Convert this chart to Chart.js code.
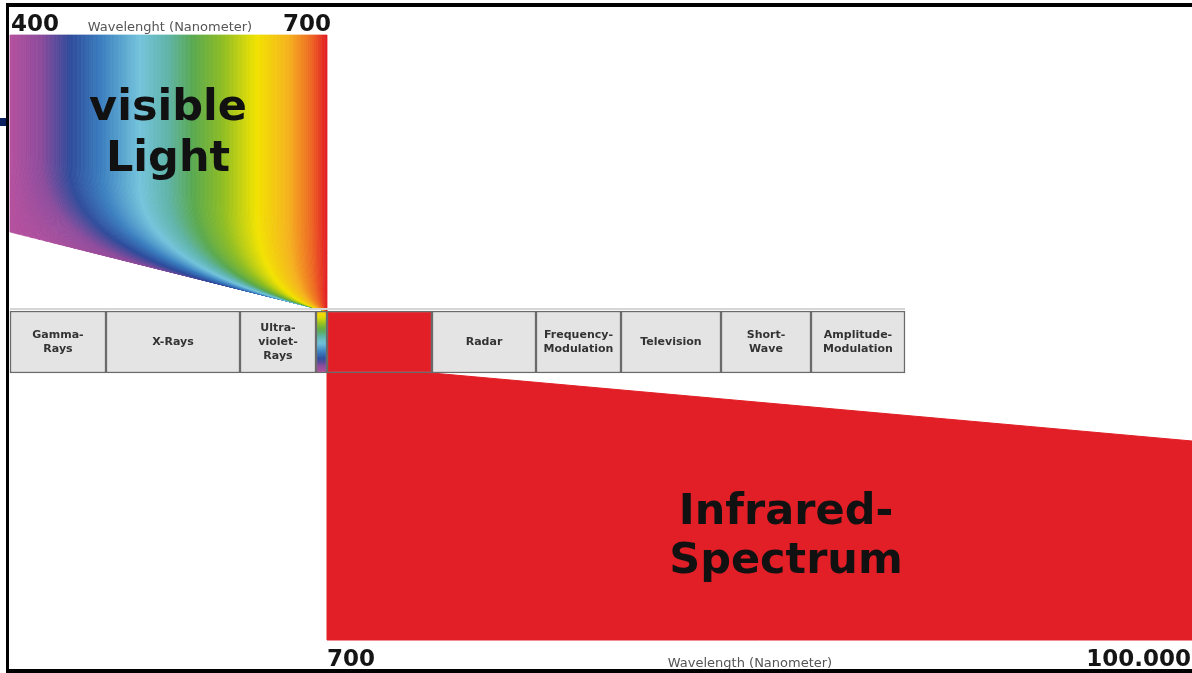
<!DOCTYPE html>
<html>
<head>
<meta charset="utf-8">
<script src="https://cdn.jsdelivr.net/npm/chart.js@4/dist/chart.umd.min.js"></script>
<style>
  html, body { margin: 0; padding: 0; background: #fff; overflow: hidden; }
  #wrap { width: 1192px; height: 673px; position: relative; }
</style>
</head>
<body>
<div id="wrap"><canvas id="spectrumChart"></canvas></div>
<script>
// bands of the electromagnetic spectrum, left to right (diagram units)
const bandLabels = ["Gamma-\nRays", "X-Rays", "Ultra-\nviolet-\nRays", "", "", "Radar",
  "Frequency-\nModulation", "Television", "Short-\nWave", "Amplitude-\nModulation"];
const bandStart = [10, 106, 240, 316, 327, 432, 536, 621, 721, 811];
const bandEnd = [106, 240, 316, 327, 432, 536, 621, 721, 811, 905];

// visible light: wavelength stops (nm) and their colours
const visibleNm = [400, 430, 457, 487, 523, 550, 574, 601, 634, 664, 685, 700];
const visibleColors = ["#b5509e", "#8c4b9c", "#2f4b9b", "#3b7fc0", "#74c4dc", "#5fb4a8",
  "#5aa94f", "#8dbd24", "#f2e300", "#f5b21e", "#ee6a22", "#e31e24"];

// outline of the visible fan: top-left, top-right, apex, foot
const visibleX = [10, 327, 327, 10];
const visibleY = [35, 35, 311, 232];

// outline of the infrared wedge
const infraredX = [327, 432, 1192, 1192, 327, 327];
const infraredY = [373, 373, 441, 640, 640, 373];

const topTicks = ["400", "700"];
const topTitle = "Wavelenght (Nanometer)";
const bottomTicks = ["700", "100.000"];
const bottomTitle = "Wavelength (Nanometer)";
const visibleTitle = ["visible", "Light"];
const infraredTitle = ["Infrared-", "Spectrum"];

const RED = "#e21f26";
const FONT = '"DejaVu Sans", Verdana, sans-serif';

function hexToRgb(h) {
  return [parseInt(h.slice(1, 3), 16), parseInt(h.slice(3, 5), 16), parseInt(h.slice(5, 7), 16)];
}

function nmColor(nm) {
  let i = 0;
  while (i < visibleNm.length - 2 && nm > visibleNm[i + 1]) i++;
  const t = Math.min(1, Math.max(0, (nm - visibleNm[i]) / (visibleNm[i + 1] - visibleNm[i])));
  const a = hexToRgb(visibleColors[i]), b = hexToRgb(visibleColors[i + 1]);
  const c = a.map((v, k) => Math.round(v + (b[k] - v) * t));
  return "rgb(" + c.join(",") + ")";
}

// the visible fan: vertical colour bands that bend and squeeze into the apex
const fanPlugin = {
  id: "visibleFan",
  beforeDatasetsDraw(chart) {
    const { ctx, scales: { x, y } } = chart;
    const L = visibleX[0], R = visibleX[1], T = visibleY[0];
    const apex = [visibleX[2], visibleY[2]], foot = [visibleX[3], visibleY[3]];
    const edgeY = xv => foot[1] + (xv - foot[0]) * (apex[1] - foot[1]) / (apex[0] - foot[0]);

    const curve = u => {
      const ax = L + u * (R - L);
      const g = 1 - Math.pow(1 - u, 6);
      const bx = foot[0] + g * (apex[0] - foot[0]);
      const by = edgeY(bx);
      const cy = edgeY(ax);
      const ky = Math.max(T, cy - 80);
      const pts = [[ax, T], [ax, ky]];
      for (let k = 1; k <= 24; k++) {
        const s = k / 24;
        pts.push([(1 - s) * (1 - s) * ax + 2 * s * (1 - s) * ax + s * s * bx,
                  (1 - s) * (1 - s) * ky + 2 * s * (1 - s) * cy + s * s * by]);
      }
      return pts;
    };

    const n = 240;
    ctx.save();
    let prev = curve(0);
    for (let i = 0; i < n; i++) {
      const next = curve((i + 1) / n);
      const col = nmColor(visibleNm[0] + (visibleNm[visibleNm.length - 1] - visibleNm[0]) * (i + 0.5) / n);
      ctx.beginPath();
      prev.forEach((p, k) => {
        const px = x.getPixelForValue(p[0]), py = y.getPixelForValue(p[1]);
        k ? ctx.lineTo(px, py) : ctx.moveTo(px, py);
      });
      for (let k = next.length - 1; k >= 0; k--) {
        ctx.lineTo(x.getPixelForValue(next[k][0]), y.getPixelForValue(next[k][1]));
      }
      ctx.closePath();
      ctx.fillStyle = col;
      ctx.strokeStyle = col;
      ctx.lineWidth = 0.8;
      ctx.fill();
      ctx.stroke();
      prev = next;
    }
    ctx.restore();
  }
};

// labels, axis numbers and frame
const textPlugin = {
  id: "labels",
  afterDatasetsDraw(chart) {
    const { ctx, scales: { x, y } } = chart;
    const X = v => x.getPixelForValue(v), Y = v => y.getPixelForValue(v);
    ctx.save();

    // light shadow above the band bar
    ctx.fillStyle = "#d6d6d6";
    ctx.fillRect(X(10), Y(308), X(905) - X(10), 2);

    // band names
    ctx.fillStyle = "#333";
    ctx.font = "bold 11px " + FONT;
    ctx.textAlign = "center";
    ctx.textBaseline = "middle";
    bandLabels.forEach((lab, i) => {
      if (!lab) return;
      const lines = lab.split("\n");
      const cx = (bandStart[i] + bandEnd[i]) / 2;
      lines.forEach((ln, k) => ctx.fillText(ln, X(cx), Y(342 + (k - (lines.length - 1) / 2) * 14)));
    });

    // top axis of the visible part
    ctx.textBaseline = "alphabetic";
    ctx.fillStyle = "#151515";
    ctx.font = "bold 23px " + FONT;
    ctx.textAlign = "left";
    ctx.fillText(topTicks[0], X(11), Y(31));
    ctx.textAlign = "right";
    ctx.fillText(topTicks[1], X(331), Y(31));
    ctx.fillStyle = "#555";
    ctx.font = "13px " + FONT;
    ctx.textAlign = "center";
    ctx.fillText(topTitle, X(170), Y(31));

    // bottom axis of the infrared part
    ctx.fillStyle = "#151515";
    ctx.font = "bold 23px " + FONT;
    ctx.textAlign = "left";
    ctx.fillText(bottomTicks[0], X(327), Y(666));
    ctx.textAlign = "right";
    ctx.fillText(bottomTicks[1], X(1191), Y(666));
    ctx.fillStyle = "#555";
    ctx.font = "13px " + FONT;
    ctx.textAlign = "center";
    ctx.fillText(bottomTitle, X(750), Y(667));

    // big titles
    ctx.fillStyle = "#111";
    ctx.font = "bold 43px " + FONT;
    ctx.fillText(visibleTitle[0], X(168), Y(120));
    ctx.fillText(visibleTitle[1], X(168), Y(171));
    ctx.fillText(infraredTitle[0], X(786), Y(524));
    ctx.fillText(infraredTitle[1], X(786), Y(573));

    // frame
    ctx.fillStyle = "#000";
    ctx.fillRect(X(6), Y(3), X(9) - X(6), Y(673) - Y(3));
    ctx.fillRect(X(6), Y(3), X(1192) - X(6), Y(7) - Y(3));
    ctx.fillRect(X(6), Y(669), X(1192) - X(6), Y(673) - Y(669));
    ctx.fillStyle = "#0b2260";
    ctx.fillRect(X(0), Y(118), X(6) - X(0), Y(126) - Y(118));
    ctx.restore();
  }
};

function cellColor(c) {
  const i = c.dataIndex;
  if (i === 4) return RED;
  if (i === 3) {
    const { ctx, scales: { y } } = c.chart;
    if (!y) return "#e4e4e4";
    const g = ctx.createLinearGradient(0, y.getPixelForValue(300), 0, y.getPixelForValue(373));
    const lo = visibleNm[0], hi = visibleNm[visibleNm.length - 1];
    for (let k = 0; k <= 20; k++) g.addColorStop(k / 20, nmColor(hi - (hi - lo) * k / 20));
    return g;
  }
  return "#e4e4e4";
}

new Chart(document.getElementById("spectrumChart"), {
  type: "line",
  data: {
    datasets: [
      {
        type: "bar",
        indexAxis: "y",
        data: bandStart.map((s, i) => ({ x: [s, bandEnd[i]], y: 342 })),
        barThickness: 62,
        backgroundColor: cellColor,
        borderColor: "#6a6a6a",
        borderWidth: 1.5,
        borderSkipped: false,
        order: 1
      },
      {
        data: infraredX.map((v, i) => ({ x: v, y: infraredY[i] })),
        fill: "shape",
        backgroundColor: RED,
        borderColor: RED,
        borderWidth: 1,
        pointRadius: 0,
        tension: 0,
        order: 2
      }
    ]
  },
  options: {
    responsive: true,
    maintainAspectRatio: false,
    animation: false,
    events: [],
    layout: { padding: 0 },
    scales: {
      x: { type: "linear", min: 0, max: 1192, offset: false, display: false },
      y: { type: "linear", min: 0, max: 673, offset: false, reverse: true, display: false }
    },
    plugins: {
      legend: { display: false },
      tooltip: { enabled: false }
    }
  },
  plugins: [fanPlugin, textPlugin]
});
</script>
</body>
</html>
